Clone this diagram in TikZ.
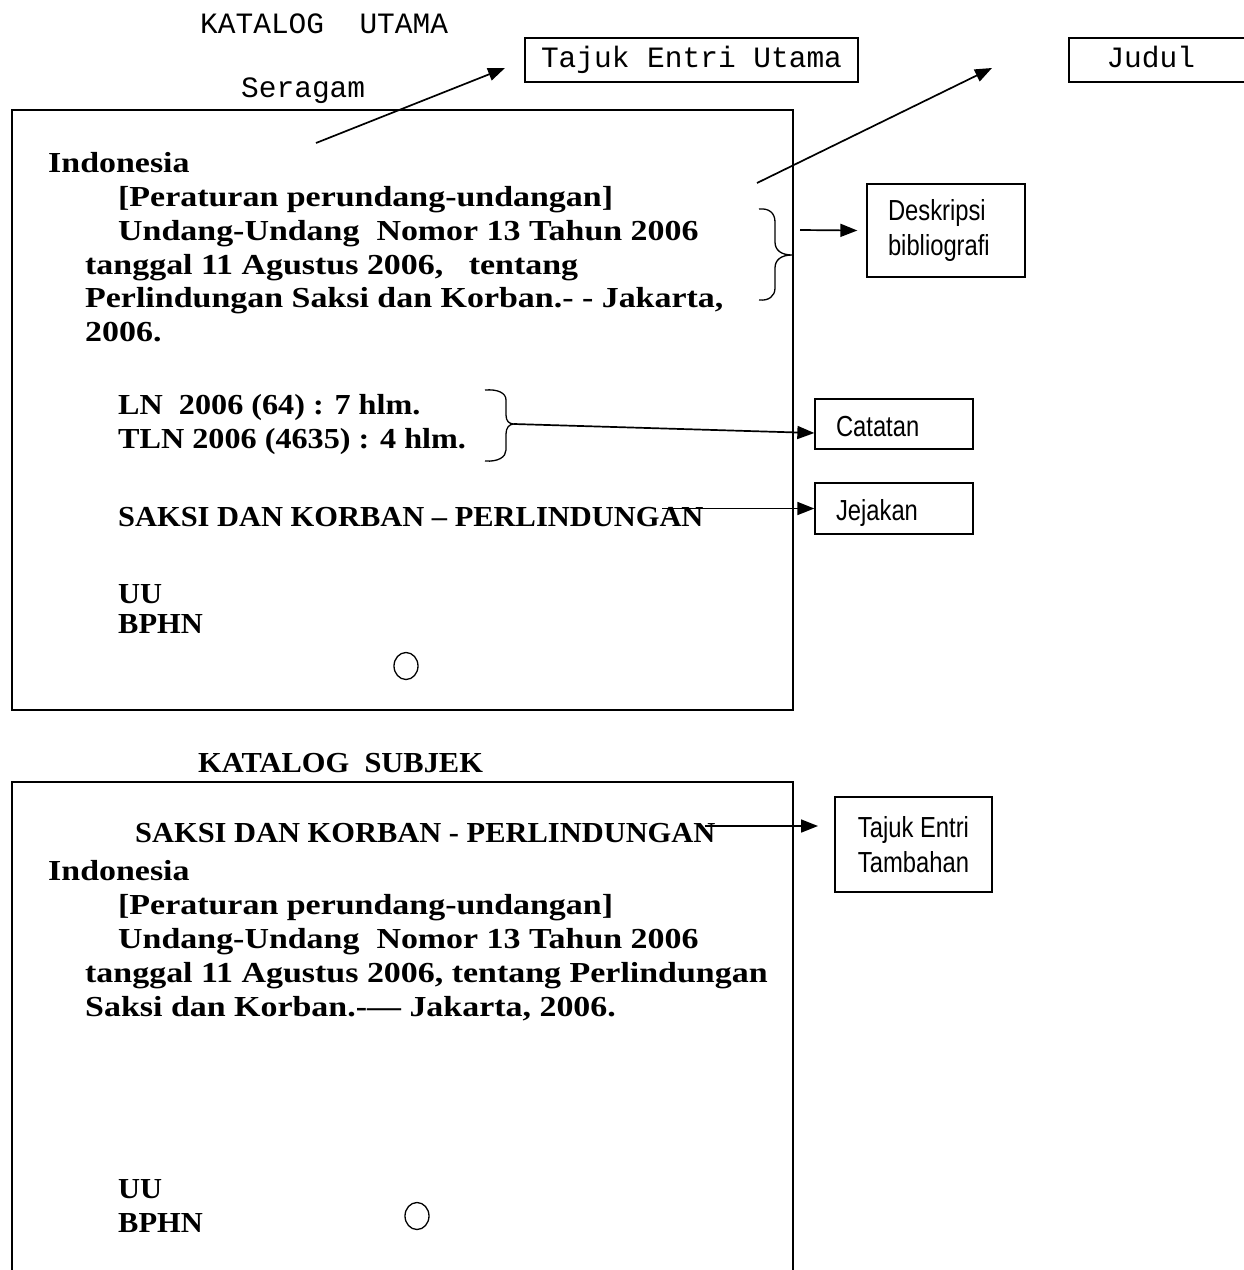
\documentclass[tikz,border=0pt]{standalone}
\usepackage{fontspec}
\usetikzlibrary{arrows.meta,shapes.geometric}
\newfontfamily\bodyfont[FakeStretch=1.17]{Liberation Serif}
\newfontfamily\capsfont[FakeStretch=1.05]{Liberation Serif}
\newfontfamily\midfont[FakeStretch=1.11]{Liberation Serif}
\newfontfamily\monofont{Liberation Mono}
\newfontfamily\narrowfont[FakeStretch=0.82]{Liberation Sans}
\begin{document}
\begin{tikzpicture}[x=1pt,y=-1pt,
  body/.style={font=\bodyfont\bfseries\fontsize{29}{34}\selectfont, anchor=base west, inner sep=0},
  bodycaps/.style={font=\capsfont\bfseries\fontsize{29}{34}\selectfont, anchor=base west, inner sep=0},
  bodymid/.style={font=\midfont\bfseries\fontsize{29}{34}\selectfont, anchor=base west, inner sep=0},
  mono/.style={font=\monofont\fontsize{29.5}{34}\selectfont, anchor=base west, inner sep=0},
  card/.style={draw, line width=2pt},
  lbl/.style={draw, line width=1.3pt, font=\narrowfont\fontsize{29}{35}\selectfont, inner sep=0},
  onelbl/.style={lbl, text height=27pt, text depth=3pt},
  monobox/.style={draw, line width=1.3pt, font=\monofont\fontsize{29.5}{34}\selectfont, text height=20pt, text depth=6pt, inner sep=0},
  conn/.style={line width=1.7pt, -{Triangle[length=17pt,width=13pt]}},
  bracestyle/.style={line width=1.3pt},
  hole/.style={draw, ellipse, line width=1.3pt, minimum width=24pt, minimum height=27pt, inner sep=0}
]
\useasboundingbox (0,0) rectangle (1244,1270);

% ---------- headings ----------
\node[mono] (katutama) at (200,33) {KATALOG~~UTAMA};
\node[mono] (seragam) at (241,97) {Seragam};
\node[monobox, minimum width=333pt, minimum height=44pt] (teu) at (691.5,60) {Tajuk Entri Utama};
\node[monobox, minimum width=181pt, minimum height=44pt, text width=106pt, align=left] (judul) at (1159.5,60) {Judul};

% ---------- card 1 ----------
\draw[card] (12,110) rectangle (793,710);
\node[body] (c1a) at (48,172) {Indonesia};
\node[body] (c1b) at (118,206) {[Peraturan perundang-undangan]};
\node[body] (c1c) at (118,240) {Undang-Undang\ \ Nomor 13 Tahun 2006};
\node[body] (c1d) at (85,274) {tanggal 11 Agustus 2006,\ \ \ tentang};
\node[body] (c1e) at (85,307) {Perlindungan Saksi dan Korban.- - Jakarta,};
\node[body] (c1f) at (85,341) {2006.};
\node[bodymid] (c1g) at (118,414) {LN\ \ 2006 (64) : 7 hlm.};
\node[bodymid] (c1h) at (118,448) {TLN 2006 (4635) : 4 hlm.};
\node[bodycaps] (c1i) at (118,526) {SAKSI DAN KORBAN – PERLINDUNGAN};
\node[bodycaps] (c1j) at (118,603) {UU};
\node[bodycaps] (c1k) at (118,633) {BPHN};
\node[hole] (hole1) at (406,666) {};

% arrows to top labels
\coordinate (a1s) at (316,143);
\coordinate (a1e) at (505,68);
\draw[conn] (a1s) -- (a1e);
\coordinate (a2s) at (757,183);
\coordinate (a2e) at (992,68);
\draw[conn] (a2s) -- (a2e);

% brace 1 and Deskripsi
\coordinate (b1tip) at (792,255);
\draw[bracestyle] (759,209) .. controls (769,208) and (775,213) .. (775,222) -- (775,242)
  .. controls (775,250) and (781,255) .. (b1tip)
  .. controls (781,255) and (775,260) .. (775,268) -- (775,288)
  .. controls (775,296) and (769,301) .. (759,300);
\node[lbl, minimum width=158pt, minimum height=93pt, text width=116pt, align=left] (desk) at (946,230.5) {Deskripsi\\bibliografi};
\coordinate (d0) at (800,230);
\draw[conn] (d0) -- ([xshift=-9pt]desk.west);

% brace 2 and Catatan
\coordinate (b2tip) at (514,424);
\draw[bracestyle] (485,390) .. controls (498,389) and (506,393) .. (506,400) -- (506,415)
  .. controls (506,421) and (509,424) .. (b2tip)
  .. controls (509,424) and (506,428) .. (506,434) -- (506,450)
  .. controls (506,457) and (498,462) .. (485,461);
\node[onelbl, minimum width=158pt, minimum height=50pt, text width=116pt, align=left] (catatan) at (894,424) {Catatan};
\draw[conn] (b2tip) -- ([yshift=-9pt]catatan.west);

% Jejakan
\node[onelbl, minimum width=158pt, minimum height=51pt, text width=116pt, align=left] (jejakan) at (894,508.5) {Jejakan};
\coordinate (j0) at (662,508.5);
\draw[conn] (j0) -- (jejakan.west);

% ---------- card 2 ----------
\node[bodycaps] (katsubjek) at (198,772) {KATALOG\ \ SUBJEK};
\draw[card] (12,1300) -- (12,782) -- (793,782) -- (793,1300);
\node[bodycaps] (c2a) at (135,842) {SAKSI DAN KORBAN - PERLINDUNGAN};
\node[body] (c2b) at (48,880) {Indonesia};
\node[body] (c2c) at (118,914) {[Peraturan perundang-undangan]};
\node[body] (c2d) at (118,948) {Undang-Undang\ \ Nomor 13 Tahun 2006};
\node[body] (c2e) at (85,982) {tanggal 11 Agustus 2006, tentang Perlindungan};
\node[body] (c2f) at (85,1016) {Saksi dan Korban.-— Jakarta, 2006.};
\node[bodycaps] (c2g) at (118,1198) {UU};
\node[bodycaps] (c2h) at (118,1232) {BPHN};
\node[hole] (hole2) at (417,1216) {};

\node[lbl, minimum width=157pt, minimum height=95pt, align=center] (tambah) at (913.5,844.5) {Tajuk Entri\\Tambahan};
\coordinate (t0) at (705,826);
\coordinate (t1) at (818,826);
\draw[conn] (t0) -- (t1);
\end{tikzpicture}
\end{document}
